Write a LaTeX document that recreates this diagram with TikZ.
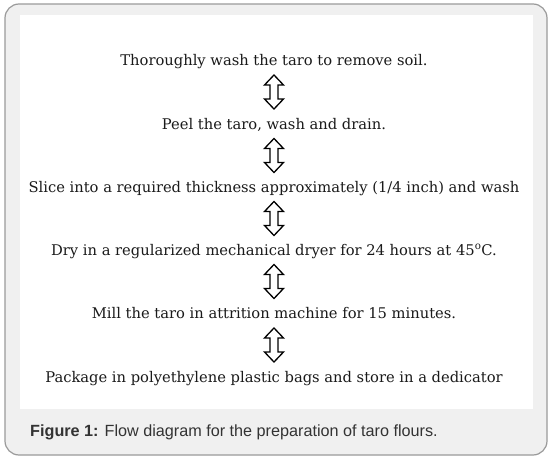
\documentclass[tikz,border=0pt]{standalone}
\usepackage{fontspec}
\setmainfont{DejaVu Serif}
\newfontfamily\capfont{Liberation Sans}
\usetikzlibrary{calc}
\definecolor{panelbg}{HTML}{F0F0F0}
\definecolor{framec}{HTML}{9A9A9A}
\definecolor{captxt}{HTML}{333333}
\definecolor{steptxt}{HTML}{1A1A1A}
\tikzset{
  stepbox/.style={inner sep=0pt, anchor=base, text=steptxt, font=\fontsize{14.7}{18}\selectfont},
  dblarr/.pic={\draw[line width=1.3pt, fill=white, line join=miter]
    (0,17) -- (9.5,7) -- (4,7) -- (4,-7) -- (9.5,-7) -- (0,-17) -- (-9.5,-7) -- (-4,-7) -- (-4,7) -- (-9.5,7) -- cycle;}
}
\begin{document}
\begin{tikzpicture}[x=1pt,y=-1pt]
\useasboundingbox (0,0) rectangle (550,458);
\draw[framec, line width=1.2pt, fill=panelbg, rounded corners=14pt] (5,4) rectangle (547,455);
\fill[white] (20,15) rectangle (533,409);
\node[stepbox] (s1) at (274,65) {Thoroughly wash the taro to remove soil.};
\node[stepbox] (s2) at (274,129) {Peel the taro, wash and drain.};
\node[stepbox] (s3) at (274,192) {Slice into a required thickness approximately (1/4 inch) and wash};
\node[stepbox] (s4) at (274,255) {Dry in a regularized mechanical dryer for 24 hours at 45\textsuperscript{o}C.};
\node[stepbox] (s5) at (274,318) {Mill the taro in attrition machine for 15 minutes.};
\node[stepbox] (s6) at (274,382) {Package in polyethylene plastic bags and store in a dedicator};
\foreach \a/\b/\n in {s1/s2/1, s2/s3/2, s3/s4/3, s4/s5/4, s5/s6/5}
  \path ($(\a.base)!0.5!(\b.base)+(0,-5)$) coordinate (m\n) pic {dblarr};
\node[anchor=west, inner sep=0pt, text=captxt, font=\capfont\fontsize{16.2}{19}\selectfont] (cap) at (30,432)
  {\textbf{Figure 1:} Flow diagram for the preparation of taro flours.};
\end{tikzpicture}
\end{document}
